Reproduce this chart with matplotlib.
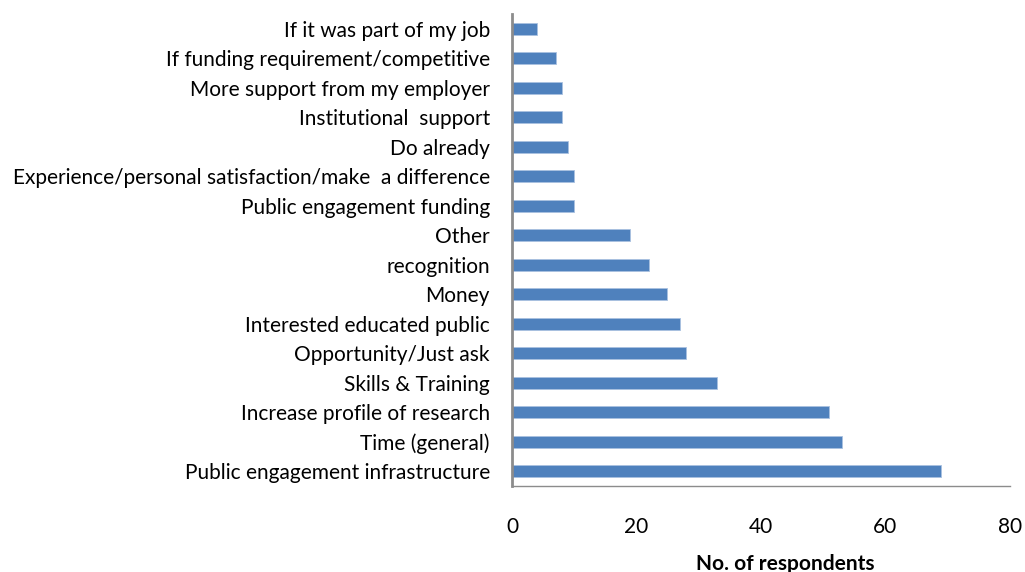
import matplotlib
matplotlib.use("Agg")
import matplotlib.pyplot as plt

categories = [
    "If it was part of my job",
    "If funding requirement/competitive",
    "More support from my employer",
    "Institutional  support",
    "Do already",
    "Experience/personal satisfaction/make  a difference",
    "Public engagement funding",
    "Other",
    "recognition",
    "Money",
    "Interested educated public",
    "Opportunity/Just ask",
    "Skills & Training",
    "Increase profile of research",
    "Time (general)",
    "Public engagement infrastructure",
]
respondents = [4, 7, 8, 8, 9, 10, 10, 19, 22, 25, 27, 28, 33, 51, 53, 69]
x_ticks = [0, 20, 40, 60, 80]

plt.rcParams["font.family"] = ["Lato", "DejaVu Sans"]

fig = plt.figure(figsize=(10.25, 5.72), dpi=100)
ax = fig.add_axes([0.4995, 0.1503, 0.4855, 0.8252])

ypos = list(range(len(categories)))
ax.barh(ypos, respondents, height=0.42, color="#4F81BD", edgecolor="#A9C1E0", linewidth=0.6)

ax.set_ylim(len(categories) - 0.5, -0.5)
ax.set_xlim(0, 80)
ax.set_yticks(ypos)
ax.set_yticklabels(categories, fontsize=15)
ax.set_xticks(x_ticks)
ax.set_xticklabels([str(t) for t in x_ticks], fontsize=15)
ax.tick_params(axis="y", length=0, pad=16)
ax.tick_params(axis="x", length=0, pad=22)

for side in ("top", "right"):
    ax.spines[side].set_visible(False)
ax.spines["left"].set_color("#8C8C8C")
ax.spines["left"].set_linewidth(2.0)
ax.spines["bottom"].set_color("#8C8C8C")
ax.spines["bottom"].set_linewidth(1.0)

ax.set_xlabel("No. of respondents", fontsize=15, fontweight="bold")
ax.xaxis.set_label_coords(0.55, -0.143)

fig.savefig("out.png", dpi=100)
